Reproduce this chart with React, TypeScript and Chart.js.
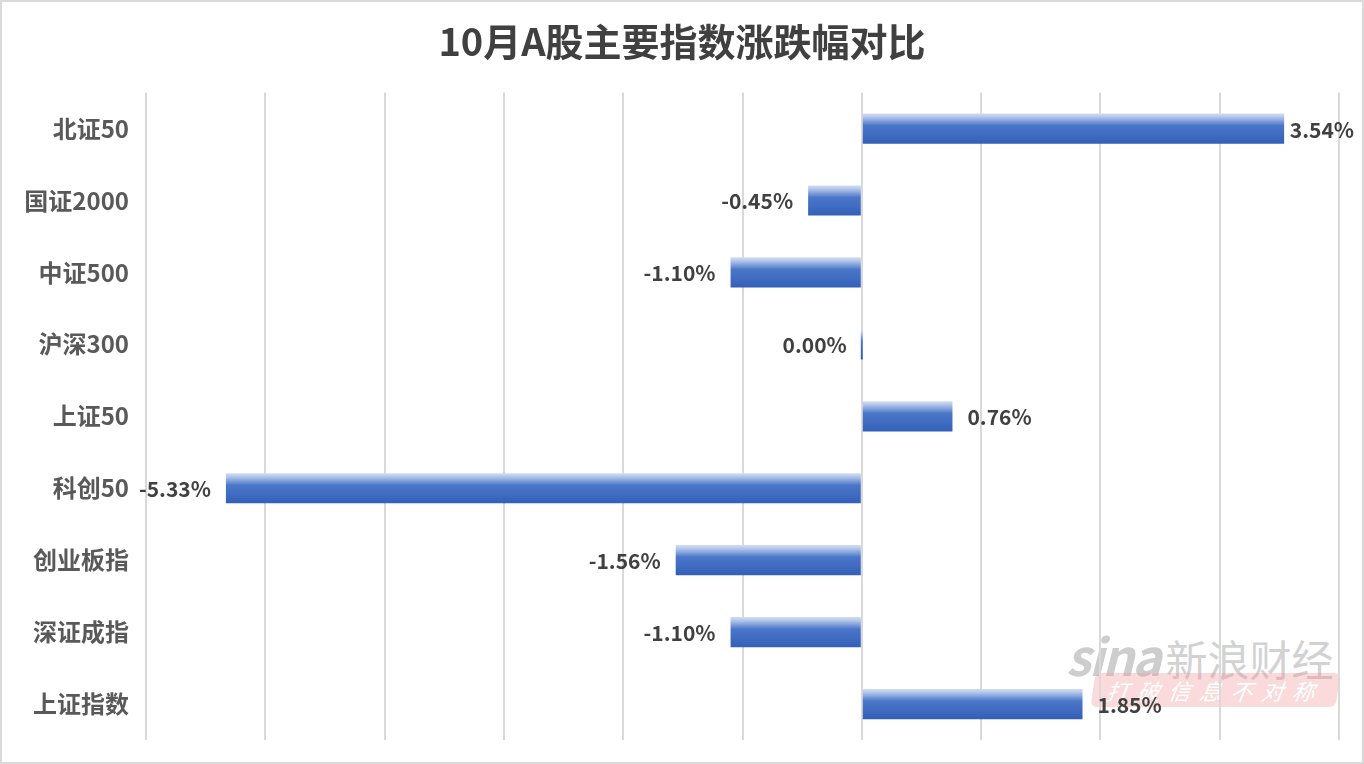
import React, { useEffect, useRef } from "react";
import { Chart, registerables } from "chart.js";

Chart.register(...registerables);

const titleText = "10月A股主要指数涨跌幅对比";
const categories = ["北证50", "国证2000", "中证500", "沪深300", "上证50", "科创50", "创业板指", "深证成指", "上证指数"];
const changes = [3.54, -0.45, -1.1, 0.0, 0.76, -5.33, -1.56, -1.1, 1.85];
const xMin = -6;
const xMax = 4;

const FONT = '"Noto Sans CJK SC", "Microsoft YaHei", sans-serif';
const BAR_PCT = 0.42;

const labelPlugin = {
  id: "valueLabels",
  afterDatasetsDraw(chart: any) {
    const ctx = chart.ctx;
    const meta = chart.getDatasetMeta(0);
    ctx.save();
    ctx.font = `bold 21px ${FONT}`;
    ctx.fillStyle = "#404040";
    ctx.textBaseline = "middle";
    meta.data.forEach((el: any, i: number) => {
      const v = changes[i];
      const txt = v.toFixed(2) + "%";
      const w = ctx.measureText(txt).width;
      const x0 = chart.scales.x.getPixelForValue(0);
      const xe = chart.scales.x.getPixelForValue(v);
      if (v > 0) {
        let tx = xe + 15;
        if (tx + w > chart.width - 10) tx = chart.width - 10 - w;
        ctx.textAlign = "left";
        ctx.fillText(txt, tx, el.y + 1);
      } else {
        ctx.textAlign = "right";
        ctx.fillText(txt, Math.min(xe, x0) - 15, el.y + 1);
      }
    });
    ctx.restore();
  },
};

export default function App() {
  const ref = useRef<HTMLCanvasElement>(null);
  useEffect(() => {
    document.body.style.margin = "0";
    const canvas = ref.current!;
    const chart = new Chart(canvas, {
      type: "bar",
      data: {
        labels: categories,
        datasets: [
          {
            data: changes,
            minBarLength: 2,
            barPercentage: BAR_PCT,
            categoryPercentage: 1,
            backgroundColor: (c: any) => {
              const ch = c.chart;
              const area = ch.chartArea;
              if (!area || !ch.scales.y) return "#4472c4";
              const yc = ch.scales.y.getPixelForValue(c.dataIndex);
              const h = ((area.bottom - area.top) / categories.length) * BAR_PCT;
              const g = ch.ctx.createLinearGradient(0, yc - h / 2, 0, yc + h / 2);
              g.addColorStop(0, "#d3ddf3");
              g.addColorStop(0.12, "#b2c5ea");
              g.addColorStop(0.4, "#4a77c9");
              g.addColorStop(1, "#345fb8");
              return g;
            },
          },
        ],
      },
      options: {
        indexAxis: "y",
        animation: false,
        responsive: false,
        maintainAspectRatio: false,
        layout: { padding: { left: 25, right: 25, top: 0, bottom: 24 } },
        plugins: {
          legend: { display: false },
          tooltip: { enabled: false },
          title: {
            display: true,
            text: titleText,
            color: "#404040",
            font: { family: FONT, size: 38, weight: "bold" },
            padding: { top: 19, bottom: 28 },
          },
        },
        scales: {
          x: {
            min: xMin,
            max: xMax,
            ticks: { display: false, stepSize: 1 },
            grid: { color: "#d9d9d9", lineWidth: 2, drawTicks: false },
            border: { display: false },
            afterFit: (s: any) => {
              s.height = 0;
              s.paddingLeft = 0;
              s.paddingRight = 0;
            },
          },
          y: {
            grid: { display: false, drawTicks: false },
            border: { display: false },
            ticks: {
              color: "#595959",
              padding: 17,
              font: { family: FONT, size: 24, weight: "bold" },
            },
            afterFit: (s: any) => {
              s.width = 121;
              s.paddingTop = 0;
              s.paddingBottom = 0;
            },
          },
        },
      },
      plugins: [labelPlugin],
    } as any);
    return () => chart.destroy();
  }, []);

  return (
    <div style={{ position: "relative", width: 1364, height: 764, background: "#fff", overflow: "hidden" }}>
      <div style={{ position: "absolute", left: 1066, top: 618, fontFamily: FONT, pointerEvents: "none", opacity: 0.7, whiteSpace: "nowrap" }}>
        <span style={{ fontSize: 50, fontStyle: "italic", fontWeight: "bold", color: "#b8b8b8", letterSpacing: -2 }}>sina</span>
        <span style={{ fontSize: 42, color: "#c0c0c0", marginLeft: 6 }}>新浪财经</span>
      </div>
      <div
        style={{
          position: "absolute",
          left: 1093,
          top: 673,
          width: 245,
          height: 34,
          borderRadius: 6,
          background: "rgba(240,150,150,0.35)",
          color: "#fff",
          fontFamily: FONT,
          fontStyle: "italic",
          fontSize: 22,
          letterSpacing: 9,
          textAlign: "center",
          lineHeight: "34px",
          transform: "skewX(-8deg)",
          pointerEvents: "none",
          whiteSpace: "nowrap",
        }}
      >
        打破信息不对称
      </div>
      <canvas ref={ref} width={1364} height={764} style={{ position: "absolute", left: 0, top: 0 }} />
      <div
        style={{
          position: "absolute",
          left: 0,
          top: 0,
          width: 1364,
          height: 764,
          boxSizing: "border-box",
          border: "2px solid #d9d9d9",
          pointerEvents: "none",
        }}
      />
    </div>
  );
}
